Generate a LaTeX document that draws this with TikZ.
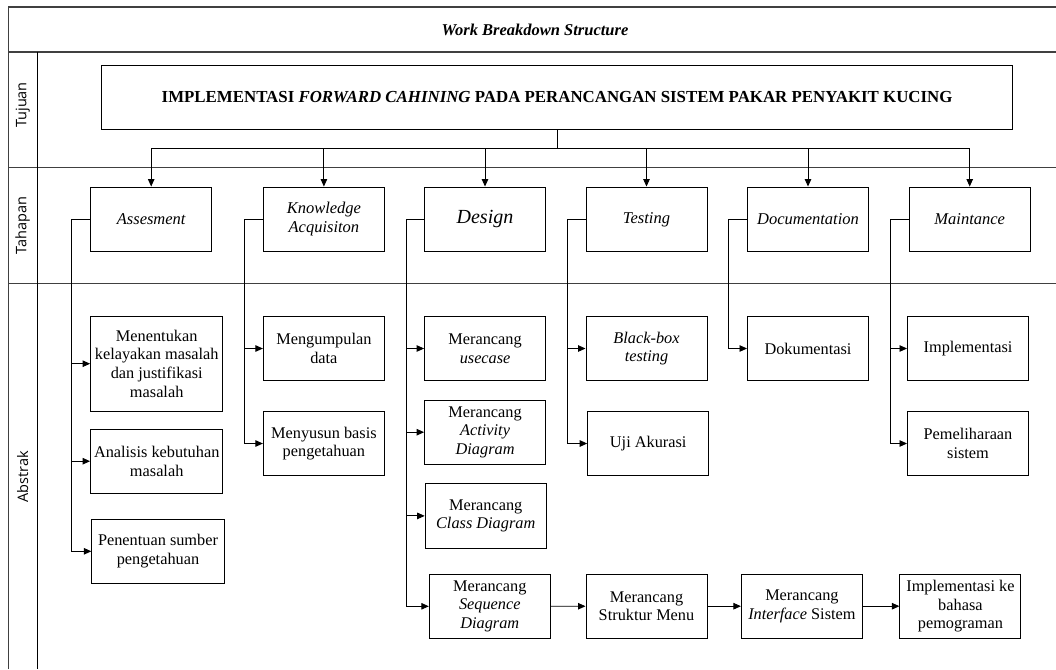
\documentclass[tikz,border=0pt]{standalone}
\usepackage{fontspec}
\setmainfont{Liberation Serif}[
  ItalicFont={Liberation Serif Italic},
  BoldFont={Liberation Serif Bold},
  BoldItalicFont={Liberation Serif Bold Italic}]
\newfontfamily\lblfont{Open Sans}
\usetikzlibrary{arrows.meta}

\newcommand\boxfont{\fontsize{16.3}{18.7}\selectfont}
\newcommand\titlefont{\fontsize{16.5}{19}\selectfont}

\tikzset{
  frame/.style={draw=black!75, line width=1.3pt},
  box/.style={draw=black, line width=1pt, fill=white, inner sep=1pt,
    align=center, font=\boxfont},
  stagebox/.style={box, minimum width=121pt, minimum height=64.5pt},
  childbox/.style={box, minimum width=121pt, minimum height=64.4pt},
  conn/.style={draw=black, line width=0.9pt},
  arr/.style={conn, -{Triangle[length=7.5pt,width=6.5pt]}},
  rowlabel/.style={rotate=90, font=\lblfont\fontsize{14.5}{16}\selectfont, inner sep=0pt}
}

\begin{document}
\begin{tikzpicture}[x=1pt, y=-1pt]
\useasboundingbox (0,0) rectangle (1056,669);

% outer table frame
\draw[frame] (8.3,669) -- (8.3,7) -- (1056,7);
\draw[frame] (8.3,52) -- (1056,52);
\draw[frame] (8.3,167.7) -- (1056,167.7);
\draw[frame] (8.3,283.3) -- (1056,283.3);
\draw[draw=black, line width=1pt] (37.2,52) -- (37.2,669);

% table heading and row labels
\node[font=\titlefont\bfseries\itshape] (title) at (535,29.5) {Work Breakdown Structure};
\node[rowlabel] (lTujuan) at (22.7,105) {Tujuan};
\node[rowlabel] (lTahapan) at (22.7,225.5) {Tahapan};
\node[rowlabel] (lAbstrak) at (22.7,477) {Abstrak};

% goal
\node[box, minimum width=911pt, minimum height=64.3pt,
      font=\fontsize{16.85}{19}\selectfont\bfseries]
  (main) at (557.1,97.2)
  {IMPLEMENTASI \textit{FORWARD CAHINING} PADA PERANCANGAN SISTEM PAKAR PENYAKIT KUCING};

% stages
\node[stagebox, font=\titlefont\itshape] (sA) at (151.2,219.3) {Assesment};
\node[stagebox, font=\titlefont\itshape] (sK) at (323.9,219.3) {Knowledge\\Acquisiton};
\node[stagebox, font=\fontsize{20}{22}\selectfont\itshape] (sD) at (485,219.3) {Design};
\node[stagebox, font=\titlefont\itshape] (sT) at (646.5,219.3) {Testing};
\node[stagebox, font=\titlefont\itshape] (sDoc) at (808,219.3) {Documentation};
\node[stagebox, font=\titlefont\itshape] (sM) at (969.7,219.3) {Maintance};

% distribution bus from the goal to the stages
\coordinate (bus) at (557.1,148);
\draw[conn] (main.south) -- (bus);
\foreach \s in {sA,sK,sD,sT,sDoc,sM}{
  \draw[arr] (bus) -| (\s.north);
}

% activities
\node[childbox, minimum width=132.2pt, minimum height=94.7pt] (cA1) at (156.7,363.7)
  {Menentukan\\kelayakan masalah\\dan justifikasi\\masalah};
\node[childbox, minimum width=132.2pt] (cA2) at (156.7,461.2) {Analisis kebutuhan\\masalah};
\node[childbox, minimum width=132.3pt, minimum height=64pt] (cA3) at (158,551.3) {Penentuan sumber\\pengetahuan};

\node[childbox] (cK1) at (323.9,348.5) {Mengumpulan\\data};
\node[childbox] (cK2) at (323.9,443.5) {Menyusun basis\\pengetahuan};

\node[childbox] (cD1) at (485.1,348.5) {Merancang\\\textit{usecase}};
\node[childbox] (cD2) at (485.1,432.2) {Merancang\\\textit{Activity}\\\textit{Diagram}};
\node[childbox] (cD3) at (485.7,515.9) {Merancang\\\textit{Class Diagram}};
\node[childbox] (cD4) at (489.8,606.3) {Merancang\\\textit{Sequence}\\\textit{Diagram}};

\node[childbox] (cT1) at (646.5,348.5) {\textit{Black-box}\\\textit{testing}};
\node[childbox] (cT2) at (648.2,443.5) {Uji Akurasi};

\node[childbox] (cDoc1) at (808,348.5) {Dokumentasi};

\node[childbox] (cM1) at (968,348.5) {Implementasi};
\node[childbox] (cM2) at (968,443.5) {Pemeliharaan\\sistem};

\node[childbox] (cS) at (646.5,606.2) {Merancang\\Struktur Menu};
\node[childbox] (cI) at (801.9,606.2) {Merancang\\\textit{Interface} Sistem};
\node[childbox] (cP) at (960.4,606.2) {Implementasi ke\\bahasa\\pemograman};

% branch corners on the left of every stage
\coordinate (vA) at (71.6,219.3);
\coordinate (vK) at (244.5,219.3);
\coordinate (vD) at (406.5,219.3);
\coordinate (vT) at (567.2,219.3);
\coordinate (vDoc) at (728.5,219.3);
\coordinate (vM) at (890.3,219.3);

\foreach \s/\v/\c in {sA/vA/cA1, sA/vA/cA2, sA/vA/cA3,
                      sK/vK/cK1, sK/vK/cK2,
                      sD/vD/cD1, sD/vD/cD2, sD/vD/cD3, sD/vD/cD4,
                      sT/vT/cT1, sT/vT/cT2,
                      sDoc/vDoc/cDoc1,
                      sM/vM/cM1, sM/vM/cM2}{
  \draw[arr] (\s.west) -- (\v) |- (\c.west);
}

% design sequence chain
\draw[arr] (cD4) -- (cS);
\draw[arr] (cS) -- (cI);
\draw[arr] (cI) -- (cP);
\end{tikzpicture}
\end{document}
